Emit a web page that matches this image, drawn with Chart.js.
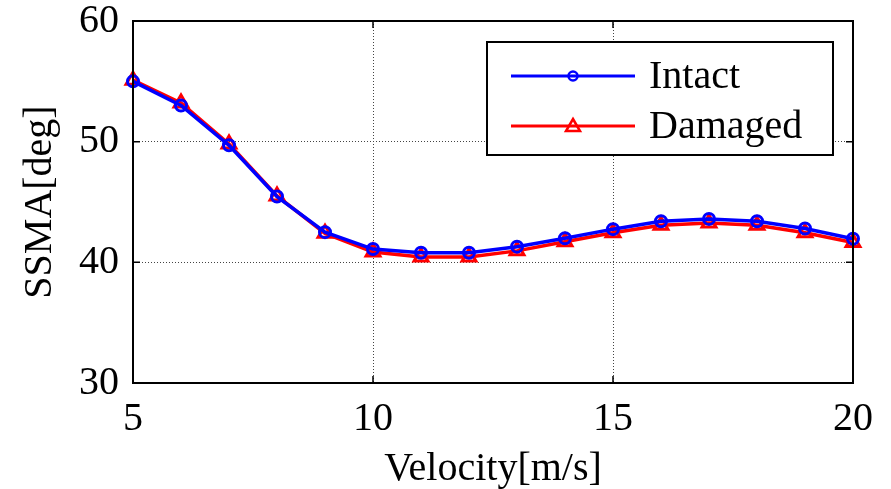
<!DOCTYPE html>
<html>
<head>
<meta charset="utf-8">
<script src="https://cdn.jsdelivr.net/npm/chart.js@4"></script>
<style>
  html, body { margin: 0; padding: 0; background: #fff; }
  #wrap { width: 891px; height: 489px; }
</style>
</head>
<body>
<div id="wrap"><canvas id="grafico" width="891" height="489"></canvas></div>
<script>
// dados
const velocity = [5, 6, 7, 8, 9, 10, 11, 12, 13, 14, 15, 16, 17, 18, 19, 20];
const intact = [55.0, 53.0, 49.7, 45.45, 42.5, 41.1, 40.8, 40.8, 41.3, 42.0, 42.75, 43.4, 43.6, 43.4, 42.8, 41.95];
const damaged = [55.1, 53.2, 49.8, 45.5, 42.4, 40.85, 40.45, 40.45, 40.95, 41.7, 42.45, 43.07, 43.26, 43.07, 42.45, 41.65];
const legendLabels = ['Intact', 'Damaged'];
const xTicks = [5, 10, 15, 20];
const yTicks = [30, 40, 50, 60];

const fonte = '"Liberation Serif", "DejaVu Serif", serif';

// moldura, marcas internas e legenda
const molduraPlugin = {
    id: 'moldura',
    afterDraw(chart) {
        const { ctx, chartArea: a, scales } = chart;
        ctx.save();
        ctx.strokeStyle = '#000';
        ctx.lineWidth = 2;
        ctx.strokeRect(a.left, a.top, a.right - a.left, a.bottom - a.top);

        ctx.lineWidth = 1.5;
        ctx.beginPath();
        xTicks.forEach(v => {
            const x = scales.x.getPixelForValue(v);
            ctx.moveTo(x, a.bottom); ctx.lineTo(x, a.bottom - 7);
            ctx.moveTo(x, a.top); ctx.lineTo(x, a.top + 7);
        });
        yTicks.forEach(v => {
            const y = scales.y.getPixelForValue(v);
            ctx.moveTo(a.left, y); ctx.lineTo(a.left + 7, y);
            ctx.moveTo(a.right, y); ctx.lineTo(a.right - 7, y);
        });
        ctx.stroke();

        // legenda
        const bx = 487, by = 42, bw = 346, bh = 113;
        ctx.fillStyle = '#fff';
        ctx.fillRect(bx, by, bw, bh);
        ctx.strokeStyle = '#000';
        ctx.lineWidth = 2;
        ctx.strokeRect(bx, by, bw, bh);

        const linhas = [
            { y: by + 34, cor: '#0000ff', tipo: 'circle' },
            { y: by + 84, cor: '#ff0000', tipo: 'triangle' }
        ];
        linhas.forEach((l, i) => {
            ctx.strokeStyle = l.cor;
            ctx.lineWidth = 3;
            ctx.beginPath();
            ctx.moveTo(bx + 24, l.y);
            ctx.lineTo(bx + 148, l.y);
            ctx.stroke();
            const mx = bx + 86;
            ctx.lineWidth = 2.5;
            ctx.fillStyle = '#fff';
            ctx.beginPath();
            if (l.tipo === 'circle') {
                ctx.arc(mx, l.y, 4.5, 0, Math.PI * 2);
            } else {
                ctx.moveTo(mx, l.y - 7);
                ctx.lineTo(mx + 7, l.y + 5);
                ctx.lineTo(mx - 7, l.y + 5);
                ctx.closePath();
            }
            ctx.stroke();
            ctx.fillStyle = '#000';
            ctx.font = '40px ' + fonte;
            ctx.textBaseline = 'middle';
            ctx.textAlign = 'left';
            ctx.fillText(legendLabels[i], bx + 162, l.y + 1);
        });
        ctx.restore();
    }
};

const ctx = document.getElementById('grafico').getContext('2d');

new Chart(ctx, {
    type: 'line',
    data: {
        labels: velocity,
        datasets: [
            {
                label: legendLabels[0],
                data: velocity.map((v, i) => ({ x: v, y: intact[i] })),
                borderColor: '#0000ff',
                backgroundColor: '#0000ff',
                borderWidth: 3.5,
                pointStyle: 'circle',
                pointRadius: 5.5,
                pointBorderWidth: 3,
                pointBackgroundColor: 'rgba(0,0,0,0)',
                pointBorderColor: '#0000ff',
                tension: 0
            },
            {
                label: legendLabels[1],
                data: velocity.map((v, i) => ({ x: v, y: damaged[i] })),
                borderColor: '#ff0000',
                backgroundColor: '#ff0000',
                borderWidth: 3.5,
                pointStyle: 'triangle',
                pointRadius: 8,
                pointBorderWidth: 3,
                pointBackgroundColor: 'rgba(0,0,0,0)',
                pointBorderColor: '#ff0000',
                tension: 0
            }
        ]
    },
    options: {
        responsive: false,
        animation: false,
        clip: false,
        layout: { padding: { top: 21, right: 38, left: 0, bottom: 0 } },
        plugins: {
            legend: { display: false },
            tooltip: { enabled: false }
        },
        scales: {
            x: {
                type: 'linear',
                min: 5,
                max: 20,
                afterFit: s => { s.height = 106; s.paddingLeft = 0; s.paddingRight = 0; },
                afterBuildTicks: s => { s.ticks = xTicks.map(v => ({ value: v })); },
                grid: {
                    color: '#444',
                    lineWidth: 1,
                    drawTicks: false
                },
                border: { display: false, dash: [1, 2] },
                ticks: {
                    color: '#000',
                    padding: 12,
                    font: { family: fonte, size: 40 }
                },
                title: {
                    display: true,
                    text: 'Velocity[m/s]',
                    color: '#000',
                    padding: { top: 0, bottom: 0 },
                    font: { family: fonte, size: 40, lineHeight: 1.0 }
                }
            },
            y: {
                min: 30,
                max: 60,
                afterFit: s => { s.width = 133; s.paddingTop = 0; s.paddingBottom = 0; },
                afterBuildTicks: s => { s.ticks = yTicks.map(v => ({ value: v })); },
                grid: {
                    color: '#444',
                    lineWidth: 1,
                    drawTicks: false
                },
                border: { display: false, dash: [1, 2] },
                ticks: {
                    color: '#000',
                    padding: 14,
                    font: { family: fonte, size: 40 }
                },
                title: {
                    display: true,
                    text: 'SSMA[deg]',
                    color: '#000',
                    padding: { top: 16, bottom: 0 },
                    font: { family: fonte, size: 40 }
                }
            }
        }
    },
    plugins: [molduraPlugin]
});
</script>
</body>
</html>
